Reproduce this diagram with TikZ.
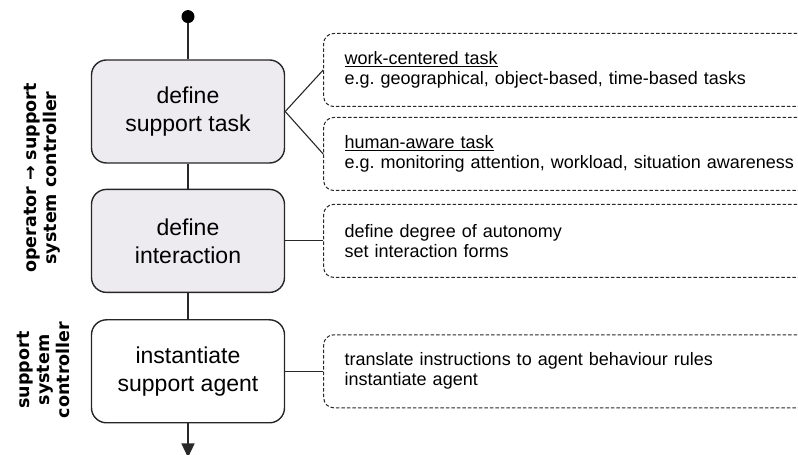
\documentclass[tikz,border=0pt]{standalone}
\usepackage{fontspec}
\setmainfont{Liberation Sans}
\newfontfamily\labelfont{DejaVu Sans}
\usetikzlibrary{positioning,arrows.meta}
\frenchspacing

\definecolor{taskgray}{RGB}{237,235,240}
\definecolor{linegray}{RGB}{40,40,40}

\begin{document}
\begin{tikzpicture}[
    x=1pt, y=1pt,
    >=Stealth,
    stepbox/.style={
        draw=black!85,
        rounded corners=15pt,
        line width=1.4pt,
        minimum width=193pt,
        minimum height=103pt,
        align=center,
        font=\fontsize{23}{28}\selectfont
    },
    infobox/.style={
        draw=linegray,
        dash pattern=on 3.5pt off 2pt,
        rounded corners=10pt,
        line width=1pt,
        minimum height=73pt,
        text width=458pt,
        inner xsep=21pt,
        align=left,
        font=\fontsize{18}{20}\selectfont
    },
    startdot/.style={
        circle,
        fill=black,
        inner sep=0pt,
        minimum size=13pt
    },
    rolelabel/.style={
        rotate=90,
        align=center,
        font=\labelfont\bfseries\fontsize{17.5}{20}\selectfont
    },
    link/.style={draw=linegray,line width=1.1pt}
]

\useasboundingbox (0,0) rectangle (798,455);
\clip (0,0) rectangle (798,455);

%------------------------------------------------
% Steps
%------------------------------------------------

\node[stepbox,fill=taskgray] (task) at (188,343.5) {define\\support task};

\node[stepbox,fill=taskgray,below=25pt of task] (inter) {define\\interaction};

\node[stepbox,below=26pt of inter] (inst) {instantiate\\support agent};

\node[startdot,above=36pt of task] (start) {};
\coordinate[below=34pt of inst] (end);

\draw[link] (start) -- (task);
\draw[link] (task) -- (inter);
\draw[link] (inter) -- (inst);
\draw[link,-{Triangle[length=14pt,width=13pt]}] (inst) -- (end);

%------------------------------------------------
% Details
%------------------------------------------------

\node[infobox,right=38pt of task,yshift=41.5pt] (work)
{\underline{work-centered task}\\e.g. geographical, object-based, time-based tasks};

\node[infobox,right=38pt of task,yshift=-42.5pt] (human)
{\underline{human-aware task}\\e.g. monitoring attention, workload, situation awareness};

\node[infobox,right=38pt of inter] (degree)
{define degree of autonomy\\set interaction forms};

\node[infobox,right=38pt of inst] (agent)
{translate instructions to agent behaviour rules\\instantiate agent};

\draw[link] (task.east) -- (work.west);
\draw[link] (task.east) -- (human.west);
\draw[link] (inter) -- (degree);
\draw[link] (inst) -- (agent);

%------------------------------------------------
% Roles
%------------------------------------------------

\node[rolelabel] (opctrl) at (42,277) {operator → support\\system controller};
\node[rolelabel] (supctrl) at (43,85) {support\\system\\controller};

\end{tikzpicture}
\end{document}
